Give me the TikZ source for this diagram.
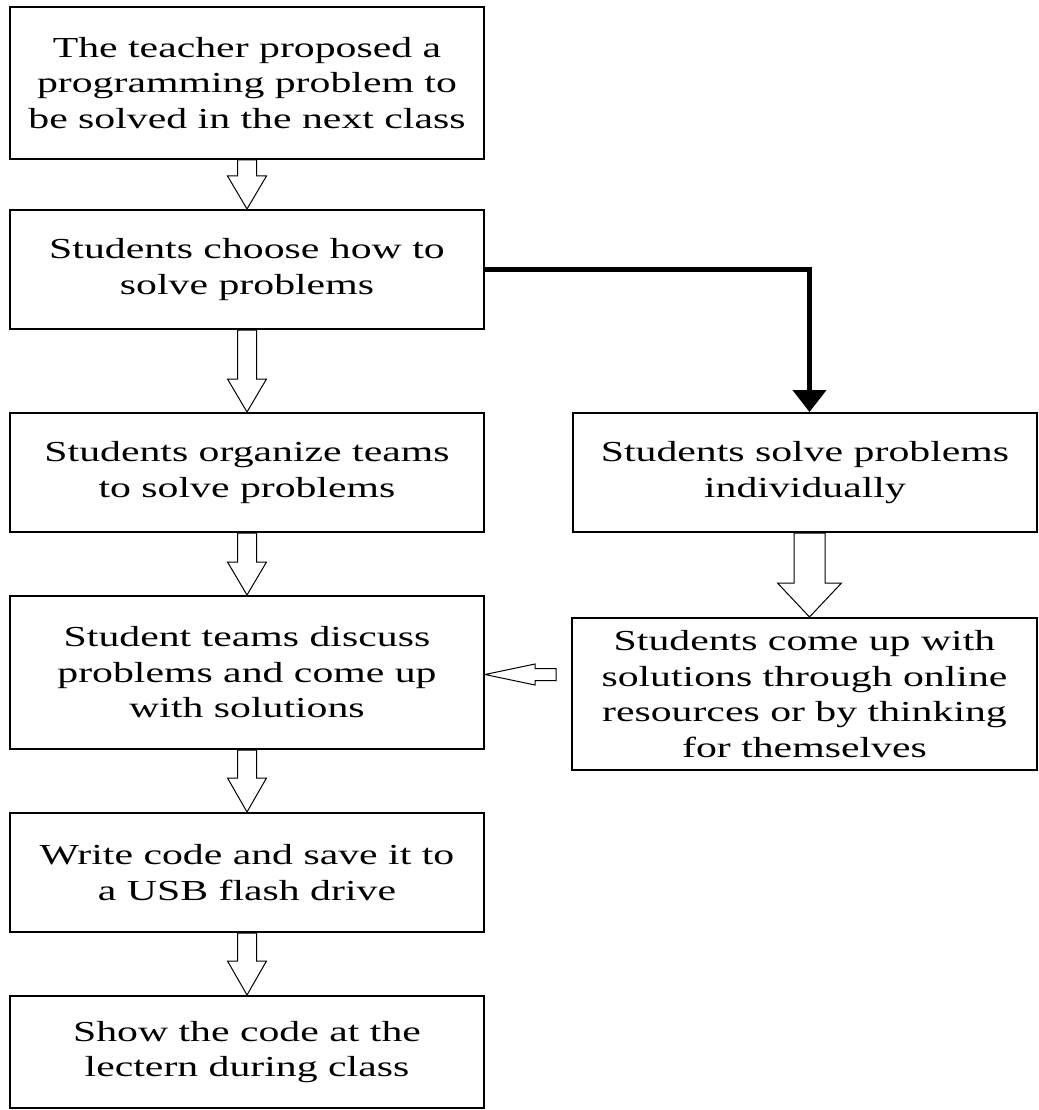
\documentclass[tikz,border=0pt]{standalone}
\usepackage{fontspec}
\setmainfont{Liberation Serif}[FakeStretch=1.44]
\usetikzlibrary{arrows.meta,calc,backgrounds}
% #1 from node, #2 to node, #3 shaft half width, #4 head half width, #5 head length, #6 xshift
\newcommand\blkdown[6]{%
  \draw[blk] let \p1=([xshift=#6]#1.south), \p2=([xshift=#6]#2.north) in
    (\x1-#3pt,\y1) -- (\x1-#3pt,\y2+#5pt) -- (\x1-#4pt,\y2+#5pt) -- (\x1,\y2)
    -- (\x1+#4pt,\y2+#5pt) -- (\x1+#3pt,\y2+#5pt) -- (\x1+#3pt,\y1) -- cycle;}
\begin{document}
\begin{tikzpicture}[x=1pt,y=-1pt,
  box/.style={draw=black,line width=2pt,inner sep=0pt,align=center,
    font=\fontsize{29pt}{35.5pt}\selectfont},
  blk/.style={draw=black,line width=1pt,fill=white,line join=miter},
  thick arrow/.style={line width=4.5pt,-{Triangle[length=22pt,width=33pt]}}]
\useasboundingbox (0,0) rectangle (1038,1110);
\node[box,minimum width=474pt,minimum height=152pt] (b1) at (247,83)
  {The teacher proposed a\\programming problem to\\be solved in the next class};
\node[box,minimum width=474pt,minimum height=119pt] (b2) at (247,269.5)
  {Students choose how to\\solve problems};
\node[box,minimum width=474pt,minimum height=119pt] (b3) at (247,472.5)
  {Students organize teams\\to solve problems};
\node[box,minimum width=464pt,minimum height=119pt] (b4) at (805,472.5)
  {Students solve problems\\individually};
\node[box,minimum width=474pt,minimum height=153pt] (b5) at (247,672.5)
  {Student teams discuss\\problems and come up\\with solutions};
\node[box,minimum width=465pt,minimum height=152pt] (b6) at (804.5,694)
  {Students come up with\\solutions through online\\resources or by thinking\\for themselves};
\node[box,minimum width=474pt,minimum height=119pt] (b7) at (247,872.5)
  {Write code and save it to\\a USB flash drive};
\node[box,minimum width=474pt,minimum height=112pt] (b8) at (247,1052)
  {Show the code at the\\lectern during class};
\begin{scope}[on background layer]
  \blkdown{b1}{b2}{9.5}{19.5}{33}{0pt}
  \blkdown{b2}{b3}{9.5}{19.5}{33}{0pt}
  \blkdown{b3}{b5}{9.5}{19.5}{33}{0pt}
  \blkdown{b5}{b7}{9.5}{19.5}{34}{0pt}
  \blkdown{b7}{b8}{9.5}{19.5}{34}{0pt}
  \blkdown{b4}{b6}{15.5}{32}{34}{4.5pt}
  \draw[blk] let \p1=(b5.east), \p2=(b6.west) in
    (\x1,\y1-2pt) -- (\x1+50pt,\y1+8.5pt) -- (\x1+50pt,\y1+4pt) -- (\x2-15pt,\y1+4pt)
    -- (\x2-15pt,\y1-8pt) -- (\x1+50pt,\y1-8pt) -- (\x1+50pt,\y1-12.5pt) -- cycle;
\end{scope}
\draw[thick arrow] (b2.east) -| ([xshift=4.5pt]b4.north);
\end{tikzpicture}
\end{document}
